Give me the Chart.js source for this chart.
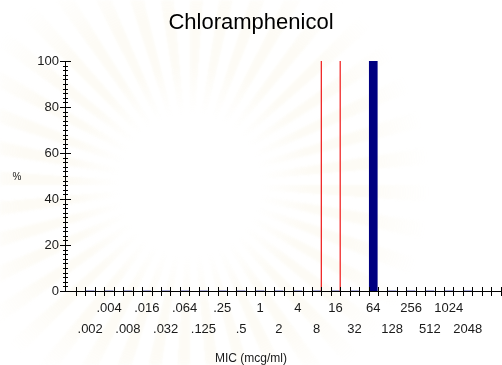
<!DOCTYPE html>
<html>
<head>
<meta charset="utf-8">
<script src="https://cdn.jsdelivr.net/npm/chart.js@4.4.1/dist/chart.umd.min.js"></script>
<style>
  html, body { margin: 0; padding: 0; background: #fff; }
  #wrap { position: relative; width: 502px; height: 365px; overflow: hidden; }
  /* marca de agua tenue (rayos) detrás del gráfico */
  #wrap::before {
    content: '';
    position: absolute;
    inset: 0;
    background: repeating-conic-gradient(from 0deg at 190px 185px,
      rgba(236, 220, 165, 0.11) 0deg 4deg, rgba(255, 255, 255, 0) 4deg 9deg);
    -webkit-mask-image: radial-gradient(circle at 190px 185px, transparent 70px, #000 120px, #000 170px, transparent 240px);
    mask-image: radial-gradient(circle at 190px 185px, transparent 70px, #000 120px, #000 170px, transparent 240px);
    filter: blur(1.5px);
    pointer-events: none;
  }
  #micChart { position: relative; }
</style>
</head>
<body>
<div id="wrap"><canvas id="micChart"></canvas></div>
<script>
// Diluciones (mcg/ml) y etiquetas del eje X
const micValues = [0.001953125, 0.00390625, 0.0078125, 0.015625, 0.03125, 0.0625, 0.125,
  0.25, 0.5, 1, 2, 4, 8, 16, 32, 64, 128, 256, 512, 1024, 2048];
const micLabels = ['.002', '.004', '.008', '.016', '.032', '.064', '.125',
  '.25', '.5', '1', '2', '4', '8', '16', '32', '64', '128', '256', '512', '1024', '2048'];
// % de aislamientos en cada dilución
const percentIsolates = [0, 0, 0, 0, 0, 0, 0, 0, 0, 0, 0, 0, 0, 0, 0, 100, 0, 0, 0, 0, 0];
// Puntos de corte (líneas rojas)
const breakpoints = [9.5, 19];

const TEXT = '#1a1a1a';
const FONT = "'Liberation Sans', Arial, sans-serif";

// Marcas de los ejes que cruzan la línea (como en el original)
const axisMarks = {
  id: 'axisMarks',
  afterDraw(chart) {
    const { ctx, chartArea, scales } = chart;
    const x = scales.x, y = scales.y;
    ctx.save();
    ctx.strokeStyle = '#000';
    ctx.lineWidth = 1;
    ctx.beginPath();
    // eje Y: mayores cada 20, menores cada 2
    for (let v = 0; v <= 100; v += 2) {
      const py = Math.round(y.getPixelForValue(v)) + 0.5;
      const major = v % 20 === 0;
      ctx.moveTo(chartArea.left - (major ? 5 : 2), py);
      ctx.lineTo(chartArea.left + (major ? 6 : 3), py);
    }
    // eje X: una marca cada media dilución
    for (let u = -9.75; ; u += 0.5) {
      const v = Math.pow(2, u);
      if (v > x.max) break;
      const px = Math.round(x.getPixelForValue(v)) + 0.5;
      ctx.moveTo(px, chartArea.bottom - 4);
      ctx.lineTo(px, chartArea.bottom + 5);
    }
    ctx.stroke();

    // título del eje Y sin rotar
    ctx.fillStyle = TEXT;
    ctx.font = '10px ' + FONT;
    ctx.textAlign = 'center';
    ctx.textBaseline = 'middle';
    ctx.fillText('%', 17, (chartArea.top + chartArea.bottom) / 2 + 1);
    ctx.restore();
  }
};

const ctx = document.getElementById('micChart').getContext('2d');
new Chart(ctx, {
  data: {
    datasets: [
      {
        type: 'bar',
        label: '% aislamientos',
        data: micValues.map((v, i) => ({ x: v, y: percentIsolates[i] })),
        backgroundColor: '#000080',
        borderWidth: 0,
        barThickness: 8,
        order: 2
      },
      ...breakpoints.map(bp => ({
        type: 'line',
        label: 'Punto de corte ' + bp,
        data: [{ x: bp, y: 0 }, { x: bp, y: 100 }],
        borderColor: '#f02828',
        borderWidth: 1.3,
        pointRadius: 0,
        order: 1
      }))
    ]
  },
  plugins: [axisMarks],
  options: {
    responsive: true,
    maintainAspectRatio: false,
    animation: false,
    layout: { padding: 0 },
    plugins: {
      legend: { display: false },
      tooltip: { enabled: false },
      title: {
        display: true,
        text: 'Chloramphenicol',
        color: '#000',
        font: { family: FONT, size: 22, weight: 'normal', lineHeight: 1.2 },
        padding: { top: 10, bottom: 24.6 }
      },
      subtitle: {
        display: true,
        position: 'bottom',
        text: 'MIC (mcg/ml)',
        color: TEXT,
        font: { family: FONT, size: 12, weight: 'normal', lineHeight: 1 },
        padding: { top: 1, bottom: 0 }
      }
    },
    scales: {
      x: {
        type: 'logarithmic',
        min: 0.000775,
        max: 7230,
        afterBuildTicks: (scale) => {
          scale.ticks = micValues.map(v => ({ value: v }));
        },
        afterFit: (scale) => { scale.height = 61; },
        grid: { display: false, drawTicks: false },
        border: { display: true, color: '#000', width: 1 },
        ticks: {
          autoSkip: false,
          maxRotation: 0,
          minRotation: 0,
          padding: 7,
          color: TEXT,
          font: { family: FONT, size: 13, lineHeight: 21 / 13 },
          // etiquetas alternadas en dos filas
          callback: (value, index) => index % 2 === 0 ? ['', micLabels[index]] : [micLabels[index], '']
        }
      },
      y: {
        min: 0,
        max: 100,
        afterFit: (scale) => { scale.width = 65; },
        grid: { display: false, drawTicks: false },
        border: { display: true, color: '#000', width: 1 },
        ticks: {
          stepSize: 20,
          padding: 6,
          color: TEXT,
          font: { family: FONT, size: 13 }
        }
      }
    }
  }
});
</script>
</body>
</html>
